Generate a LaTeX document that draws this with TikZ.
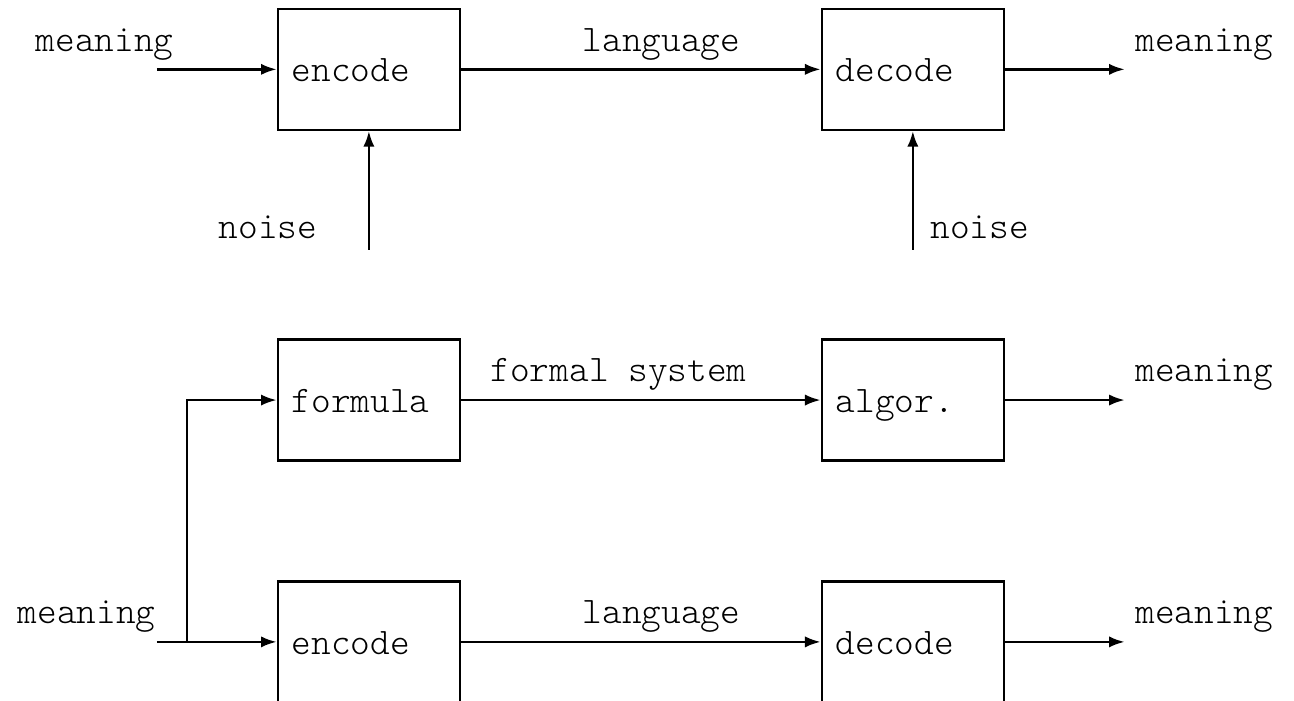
\documentclass[tikz,border=0pt]{standalone}
\usetikzlibrary{arrows.meta,positioning}

\begin{document}
\begin{tikzpicture}[>={Latex[length=4.2pt,width=3pt]},
  every node/.style={font=\ttfamily\fontseries{l}\selectfont},
  block/.style={draw, line width=.6pt, minimum height=1.134cm, text width=1.446cm,
    inner sep=.13cm, align=left, text height=1.5ex, text depth=0pt},
  lbl/.style={inner sep=0pt, anchor=base west},
  flow/.style={->, line width=.7pt}]

    \useasboundingbox (0,0) rectangle (12.13,6.57);

    %% channel: encode / decode with noise
    \node[block] (enc1) at (3.458,5.92) {encode};
    \node[block] (dec1) at (8.557,5.92) {decode};
    \coordinate (in1) at (1.471,5.92);
    \coordinate (out1) at (10.544,5.92);
    \coordinate (noise1) at (3.458,4.227);
    \coordinate (noise2) at (8.557,4.227);
    \node[lbl] (mean1) at (0.328,6.083) {meaning};
    \node[lbl] (lang1) at (5.455,6.083) {language};
    \node[lbl] (mean2) at (10.637,6.083) {meaning};
    \node[lbl] (noiselbl1) at (2.043,4.339) {noise};
    \node[lbl] (noiselbl2) at (8.716,4.339) {noise};

    \draw[flow] (in1) -- (enc1);
    \draw[flow] (enc1) -- (dec1);
    \draw[flow] (dec1) -- (out1);
    \draw[flow] (noise1) -- (enc1);
    \draw[flow] (noise2) -- (dec1);

    % formal branch
    \node[block] (form) at (3.458,2.82) {formula};
    \node[block] (alg) at (8.557,2.82) {algor.};
    \coordinate (out2) at (10.544,2.82);
    \node[lbl] (sys) at (4.592,2.990) {formal system};
    \node[lbl] (mean3) at (10.637,2.990) {meaning};

    \draw[flow] (form) -- (alg);
    \draw[flow] (alg) -- (out2);

    % language branch
    \node[block] (enc2) at (3.458,0.553) {encode};
    \node[block] (dec2) at (8.557,0.553) {decode};
    \coordinate (in3) at (1.471,0.553);
    \coordinate (split) at (1.753,0.553);
    \coordinate (out3) at (10.544,0.553);
    \node[lbl] (mean4) at (0.159,0.722) {meaning};
    \node[lbl] (lang2) at (5.455,0.722) {language};
    \node[lbl] (mean5) at (10.637,0.722) {meaning};

    \draw[flow] (in3) -- (enc2);
    \draw[flow] (split) |- (form);
    \draw[flow] (enc2) -- (dec2);
    \draw[flow] (dec2) -- (out3);
\end{tikzpicture}
\end{document}
